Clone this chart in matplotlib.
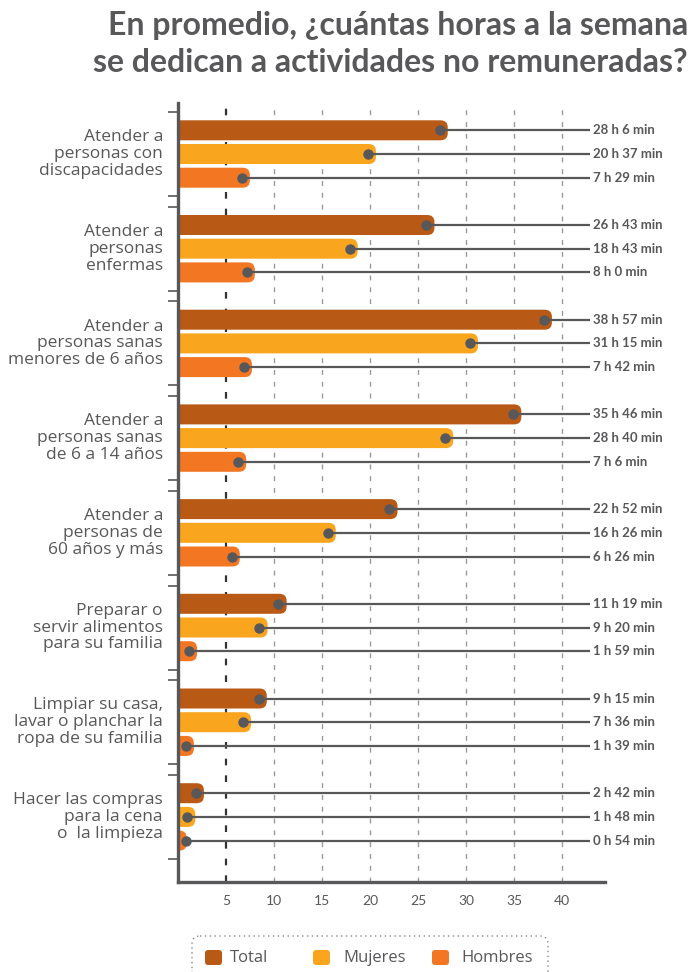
import matplotlib.pyplot as plt
import matplotlib.transforms as mtransforms
from matplotlib.patches import FancyBboxPatch
import numpy as np

plt.rcParams['font.family'] = ['Lato', 'DejaVu Sans']

# data: hours and minutes per week
categories = ['Atender a\npersonas con\ndiscapacidades',
              'Atender a\npersonas\nenfermas',
              'Atender a\npersonas sanas\nmenores de 6 años',
              'Atender a\npersonas sanas\nde 6 a 14 años',
              'Atender a\npersonas de\n60 años y más',
              'Preparar o\nservir alimentos\npara su familia',
              'Limpiar su casa,\nlavar o planchar la\nropa de su familia',
              'Hacer las compras\npara la cena\no  la limpieza']

total_h = [28, 26, 38, 35, 22, 11, 9, 2]
total_m = [6, 43, 57, 46, 52, 19, 15, 42]
mujeres_h = [20, 18, 31, 28, 16, 9, 7, 1]
mujeres_m = [37, 43, 15, 40, 26, 20, 36, 48]
hombres_h = [7, 8, 7, 7, 6, 1, 1, 0]
hombres_m = [29, 0, 42, 6, 26, 59, 39, 54]

series = ['Total', 'Mujeres', 'Hombres']
colors = ['#b95916', '#faa51e', '#f37622']
gray = '#58585a'

x_ticks = [5, 10, 15, 20, 25, 30, 35, 40]

hours = [total_h, mujeres_h, hombres_h]
mins = [total_m, mujeres_m, hombres_m]

fig = plt.figure(figsize=(6.91, 9.72), dpi=100)
W, H = 691, 972

# main axes, y in pixel-like units so the layout is easy to match
ax = fig.add_axes([178 / W, 1 - 882 / H, (605 - 178) / W, (882 - 103) / H])
px_per_x = 9.6
ax.set_xlim(0, (605 - 178) / px_per_x)
ax.set_ylim(882, 103)

group_gap = 94.7
bar_gap = 23.7
bar_h = 20
centers = 154 + np.arange(len(categories)) * group_gap

# dashed gridlines
for t in x_ticks:
    if t == 5:
        ax.axvline(t, color='#333333', lw=1.6, dashes=(3, 4.5), zorder=0)
    else:
        ax.axvline(t, color='#9a9a9a', lw=1.0, dashes=(3.5, 5), zorder=0)

for s in range(3):
    for g in range(len(categories)):
        v = hours[s][g] + mins[s][g] / 60.0
        y = centers[g] + (s - 1) * bar_gap
        # bar with rounded right end
        bar = FancyBboxPatch((-1, y - bar_h / 2), v + 1, bar_h,
                             boxstyle='round,pad=0,rounding_size=0.75',
                             mutation_aspect=px_per_x,
                             facecolor=colors[s], edgecolor='none', zorder=2)
        ax.add_patch(bar)
        dot = max(v - 0.85, 0.85)
        ax.plot([dot, 42.9], [y, y], color=gray, lw=1.6, zorder=3,
                solid_capstyle='butt', clip_on=False)
        ax.plot(dot, y, 'o', ms=6.5, color=gray, zorder=4, clip_on=False)
        ax.text(43.25, y, '%d h %d min' % (hours[s][g], mins[s][g]),
                va='center', ha='left', fontsize=9.5, fontweight='bold',
                color=gray, clip_on=False)

# spines and ticks
for side in ['top', 'right']:
    ax.spines[side].set_visible(False)
for side in ['left', 'bottom']:
    ax.spines[side].set_color(gray)
    ax.spines[side].set_linewidth(2.4)

yt = []
for c in centers:
    yt += [c - 42, c + 42]
ax.set_yticks(yt)
ax.set_yticklabels([])
ax.tick_params(axis='y', length=7, width=1.2, color=gray, direction='out')
ax.set_xticks(x_ticks)
ax.set_xticklabels([str(t) for t in x_ticks])
ax.tick_params(axis='x', length=0, pad=9, labelsize=10, labelcolor=gray)

# category labels, right aligned next to the axis
trans = mtransforms.blended_transform_factory(fig.transFigure, ax.transData)
for g, cat in enumerate(categories):
    ax.text(163 / W, centers[g], cat, transform=trans, ha='right', va='center',
            multialignment='right', fontsize=12.5, color=gray,
            family=['Open Sans', 'DejaVu Sans'], linespacing=1.07)

# title
fig.text(688 / W, 1 - 25 / H, 'En promedio, ¿cuántas horas a la semana',
         ha='right', va='center', fontsize=23, fontweight='bold', color=gray)
fig.text(688 / W, 1 - 63 / H, 'se dedican a actividades no remuneradas?',
         ha='right', va='center', fontsize=23, fontweight='bold', color=gray)

# legend in a pixel overlay
ov = fig.add_axes([0, 0, 1, 1])
ov.set_xlim(0, W)
ov.set_ylim(H, 0)
ov.axis('off')
box = FancyBboxPatch((192, 936), 548 - 192, 60,
                     boxstyle='round,pad=0,rounding_size=8',
                     facecolor='none', edgecolor='#888888', lw=1.0,
                     linestyle=(0, (1, 2.5)))
ov.add_patch(box)
leg_x = [205, 313, 432]
txt_x = [230, 343, 461]
for i, name in enumerate(series):
    sq = FancyBboxPatch((leg_x[i], 950), 17, 15,
                        boxstyle='round,pad=0,rounding_size=3',
                        facecolor=colors[i], edgecolor='none')
    ov.add_patch(sq)
    ov.text(txt_x[i], 958, name, ha='left', va='center', fontsize=12,
            color=gray, family=['Open Sans', 'DejaVu Sans'])

fig.savefig('out.png', dpi=100)
